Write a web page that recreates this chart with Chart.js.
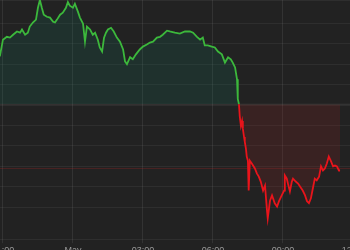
<!DOCTYPE html>
<html>
<head>
<meta charset="utf-8">
<script src="https://cdn.jsdelivr.net/npm/chart.js@4"></script>
<style>
  html, body { margin: 0; padding: 0; background: #222; overflow: hidden; width: 350px; height: 250px; }
  #wrap { position: absolute; left: -20px; top: 0; }
</style>
</head>
<body>
<div id="wrap"><canvas id="chart" width="390" height="258"></canvas></div>
<script>
// minutes from 00:00 (May 1)
const times = [
  -188, -180, -170, -162, -154, -144, -136, -131, -123, -116, -111, -103, -95, -90, -85, -80,
  -75, -67, -59, -51, -46, -41, -33, -26, -18, -13, -8, 0, 5, 13, 18, 26, 31, 36, 44, 51, 57,
  64, 69, 75, 80, 85, 90, 98, 105, 113, 121, 129, 134, 139, 147, 154, 162, 172, 180, 190, 198,
  206, 216, 224, 231, 242, 249, 262, 275, 288, 301, 309, 319, 327, 334, 339, 347, 357, 365,
  373, 383, 391, 399, 406, 411, 417, 422, 424, 427,
  429, 432, 435, 437, 440, 442, 445, 447, 450, 452, 455, 460, 468, 473, 478, 483, 489, 494,
  499, 501, 507, 512, 519, 525, 530, 537, 543, 545, 550, 553, 558, 563, 566, 573, 579, 584,
  591, 597, 602, 607, 612, 617, 622, 627, 633, 638, 643, 648, 653, 658, 663, 669, 674, 679,
  684, 687
];
const prices = [
  104.69, 105.10, 105.17, 105.15, 105.22, 105.30, 105.27, 105.35, 105.22, 105.27, 105.42, 105.52,
  105.59, 105.88, 106.07, 105.88, 105.71, 105.66, 105.64, 105.54, 105.52, 105.59, 105.71, 105.76,
  105.88, 106.02, 105.93, 105.88, 105.98, 105.78, 105.64, 105.49, 105.05, 105.42, 105.35, 105.22,
  105.27, 105.10, 104.91, 104.81, 105.15, 105.27, 105.35, 105.39, 105.30, 105.15, 105.05, 104.86,
  104.57, 104.50, 104.67, 104.62, 104.74, 104.86, 104.93, 104.98, 105.03, 105.05, 105.15, 105.17,
  105.22, 105.32, 105.30, 105.27, 105.25, 105.30, 105.30, 105.27, 105.17, 105.10, 105.15, 104.96,
  104.96, 104.93, 104.91, 104.81, 104.74, 104.54, 104.67, 104.62, 104.54, 104.42, 104.13, 103.65,
  103.52,
  103.23, 102.99, 103.11, 102.92, 102.72, 102.60, 102.43, 102.24, 102.14, 101.41, 102.14, 102.07,
  101.95, 101.83, 101.75, 101.63, 101.41, 101.53, 100.93, 100.73, 101.17, 101.29, 101.10, 101.02,
  101.15, 101.29, 101.41, 101.78, 101.70, 101.58, 101.39, 101.63, 101.70, 101.63, 101.58, 101.51,
  101.41, 101.29, 101.15, 101.10, 101.22, 101.46, 101.70, 101.66, 101.75, 102.00, 101.90, 101.95,
  102.07, 102.24, 102.14, 102.00, 102.02, 102.00, 101.90, 101.90
];
const baseline = 103.52;
const prevClose = 101.95;
const tickTimes = [-180, 0, 180, 360, 540, 720];
const tickLabels = ["21:00", "May", "03:00", "06:00", "09:00", "12:00"];

const green = "#3cb83c";
const red = "#e8141b";

const points = times.map((t, i) => ({ x: t, y: prices[i] }));
const xMin = -239, xMax = 764;

new Chart(document.getElementById("chart"), {
  type: "line",
  data: {
    datasets: [
      {
        data: points,
        borderWidth: 1.8,
        borderColor: green,
        pointRadius: 0,
        tension: 0,
        fill: {
          target: { value: baseline },
          above: "rgba(20,110,90,0.2)",
          below: "rgba(140,35,35,0.22)",
        },
        segment: {
          borderColor: (ctx) => (ctx.p1.parsed.y < baseline ? red : green),
        },
      },
      {
        // baseline
        data: [{ x: xMin, y: baseline }, { x: xMax, y: baseline }],
        borderColor: "rgba(255,255,255,0.1)",
        borderWidth: 1,
        pointRadius: 0,
        fill: false,
      },
      {
        // previous close
        data: [{ x: xMin, y: prevClose }, { x: xMax, y: prevClose }],
        borderColor: "rgba(200,40,40,0.25)",
        borderWidth: 1,
        pointRadius: 0,
        fill: false,
      },
    ],
  },
  options: {
    responsive: false,
    devicePixelRatio: 1,
    animation: false,
    layout: { padding: 0 },
    plugins: { legend: { display: false }, tooltip: { enabled: false } },
    scales: {
      x: {
        type: "linear",
        min: xMin,
        max: xMax,
        afterBuildTicks: (scale) => {
          scale.ticks = tickTimes.map((v) => ({ value: v }));
        },
        afterFit: (scale) => {
          scale.paddingLeft = 0;
          scale.paddingRight = 0;
        },
        grid: { color: "rgba(255,255,255,0.08)", tickLength: 4 },
        border: { display: false },
        ticks: {
          autoSkip: false,
          maxRotation: 0,
          padding: 2,
          color: "#999",
          font: { size: 9, family: "Liberation Sans" },
          callback: (v) => tickLabels[tickTimes.indexOf(v)] ?? "",
        },
      },
      y: {
        min: 100.22,
        max: 106.07,
        ticks: { display: false, stepSize: 0.5 },
        grid: { color: "rgba(255,255,255,0.055)", drawTicks: false },
        border: { display: false },
      },
    },
  },
});
</script>
</body>
</html>
